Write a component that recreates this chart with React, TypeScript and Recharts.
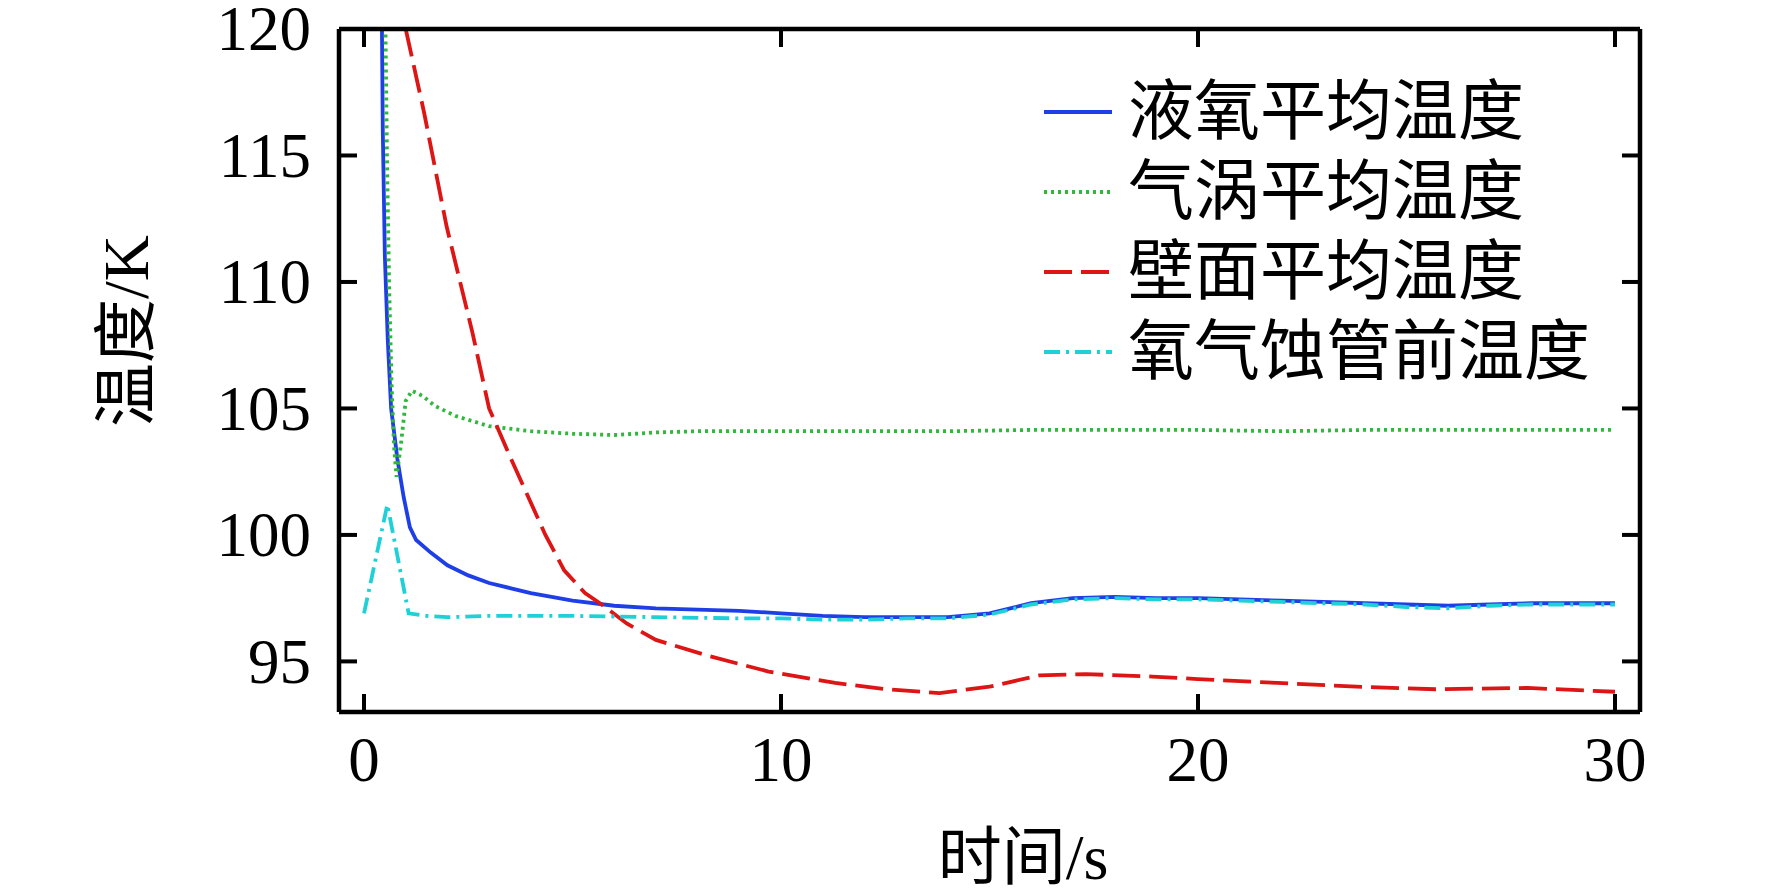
import React from 'react';
import { LineChart, Line, XAxis, YAxis } from 'recharts';

// time (s) / temperature (K)
const lqT = [0.42, 0.45, 0.5, 0.57, 0.65, 0.8, 0.95, 1.1, 1.25, 1.6, 2, 2.5, 3, 3.5, 4, 5, 6, 7, 8, 9, 10, 11, 12, 13, 14, 15, 16, 17, 18, 19, 20, 21, 22, 23, 24, 25, 26, 27, 28, 29, 30];
const lqV = [122, 116, 111, 107.7, 105, 103, 101.5, 100.3, 99.8, 99.3, 98.8, 98.4, 98.1, 97.9, 97.7, 97.4, 97.2, 97.1, 97.05, 97.0, 96.9, 96.8, 96.75, 96.75, 96.75, 96.9, 97.3, 97.5, 97.55, 97.5, 97.5, 97.45, 97.4, 97.35, 97.3, 97.25, 97.2, 97.25, 97.3, 97.3, 97.3];

const gasT = [0.5, 0.55, 0.6, 0.66, 0.72, 0.78, 0.88, 1.0, 1.15, 1.4, 1.7, 2.2, 3, 4, 5, 6, 7, 8, 10, 12, 14, 16, 18, 20, 22, 24, 26, 28, 30];
const gasV = [122, 115, 110, 106, 103.5, 102.3, 103.5, 105.3, 105.7, 105.5, 105.1, 104.7, 104.3, 104.1, 104.0, 103.95, 104.05, 104.1, 104.1, 104.1, 104.1, 104.15, 104.15, 104.15, 104.1, 104.15, 104.15, 104.15, 104.15];

const wallT = [1.0, 1.44, 1.98, 2.6, 3.0, 3.5, 4.35, 4.8, 5.3, 5.7, 6.3, 7, 8.3, 9.7, 11.3, 12.5, 13.8, 15, 16.2, 17.3, 18.9, 20, 21.9, 23.8, 25.7, 27.9, 30];
const wallV = [120, 116.7, 112.2, 108, 105, 103.1, 100, 98.6, 97.7, 97.25, 96.5, 95.85, 95.2, 94.6, 94.15, 93.9, 93.75, 94.0, 94.45, 94.5, 94.4, 94.3, 94.15, 94.0, 93.9, 93.95, 93.8];

const inletT = [0, 0.56, 1.07, 1.5, 2, 3, 5, 7, 9, 10, 11, 12, 13, 14, 15, 16, 17, 18, 19, 20, 21, 22, 23, 24, 25, 26, 27, 28, 29, 30];
const inletV = [96.9, 101.2, 96.9, 96.8, 96.75, 96.8, 96.8, 96.75, 96.7, 96.7, 96.65, 96.65, 96.7, 96.7, 96.85, 97.25, 97.45, 97.5, 97.45, 97.45, 97.4, 97.35, 97.3, 97.25, 97.15, 97.1, 97.2, 97.25, 97.25, 97.25];

const xTicks = [0, 10, 20, 30];
const yTicks = [95, 100, 105, 110, 115, 120];

const zip = (t: number[], v: number[]) => t.map((x, i) => ({ x, y: v[i] }));

const SERIES = [
  { name: '液氧平均温度', data: zip(lqT, lqV), color: '#1f3fe6', dash: undefined },
  { name: '气涡平均温度', data: zip(gasT, gasV), color: '#2fb83a', dash: '3 4' },
  { name: '壁面平均温度', data: zip(wallT, wallV), color: '#dd1515', dash: '28 9' },
  { name: '氧气蚀管前温度', data: zip(inletT, inletV), color: '#1fd0d6', dash: '16 6 3 6' },
];

const FONT = "'Liberation Serif', 'Times New Roman', 'Noto Sans CJK SC', serif";
const TICK_LEN = 18;
const X_GAP = 24;
const Y_GAP = 28;
const axisStroke = { stroke: '#000', strokeWidth: 4.5 };

// tick marks point into the plot, labels stay outside
const BottomTick = (p: any) => (
  <g>
    <line x1={p.x} y1={p.y - X_GAP} x2={p.x} y2={p.y - X_GAP - TICK_LEN} stroke="#000" strokeWidth={4} />
    <text x={p.x} y={p.y} dy="0.71em" textAnchor="middle" fontSize={63} fontFamily={FONT} fill="#000">
      {p.payload.value}
    </text>
  </g>
);

const LeftTick = (p: any) => (
  <g>
    <line x1={p.x + Y_GAP} y1={p.y} x2={p.x + Y_GAP + TICK_LEN} y2={p.y} stroke="#000" strokeWidth={4} />
    <text x={p.x} y={p.y} dy="0.34em" textAnchor="end" fontSize={63} fontFamily={FONT} fill="#000">
      {p.payload.value}
    </text>
  </g>
);

const TopTick = (p: any) => (
  <line x1={p.x} y1={p.y} x2={p.x} y2={p.y + TICK_LEN} stroke="#000" strokeWidth={4} />
);

const RightTick = (p: any) => (
  <line x1={p.x} y1={p.y} x2={p.x - TICK_LEN} y2={p.y} stroke="#000" strokeWidth={4} />
);

function LegendBox() {
  return (
    <div style={{ position: 'absolute', left: 1044, top: 72, fontFamily: FONT, fontSize: 66, color: '#000', lineHeight: 1 }}>
      {SERIES.map((s) => (
        <div key={s.name} style={{ display: 'flex', alignItems: 'center', height: 80 }}>
          <svg width={84} height={12}>
            <line x1={0} y1={6} x2={68} y2={6} stroke={s.color} strokeWidth={4} strokeDasharray={s.dash} />
          </svg>
          <span>{s.name}</span>
        </div>
      ))}
    </div>
  );
}

export default function App() {
  return (
    <div style={{ position: 'absolute', left: 0, top: 0, width: 1772, height: 895, background: '#fff' }}>
      <LineChart width={1772} height={895} margin={{ top: 28, right: 131, bottom: 0, left: 0 }}>
        <XAxis
          xAxisId="bottom"
          dataKey="x"
          type="number"
          domain={[-0.6, 30.6]}
          ticks={xTicks}
          interval={0}
          allowDataOverflow
          height={183}
          axisLine={axisStroke}
          tickLine={false}
          tickSize={0}
          tickMargin={X_GAP}
          tick={BottomTick}
          label={{
            content: () => (
              <text x={1023} y={879} textAnchor="middle" fontSize={64} fontFamily={FONT} fill="#000">
                时间/s
              </text>
            ),
          }}
        />
        <XAxis
          xAxisId="top"
          orientation="top"
          dataKey="x"
          type="number"
          domain={[-0.6, 30.6]}
          ticks={xTicks}
          interval={0}
          allowDataOverflow
          height={1}
          axisLine={axisStroke}
          tickLine={false}
          tickSize={0}
          tickMargin={0}
          tick={TopTick}
        />
        <YAxis
          yAxisId="left"
          type="number"
          domain={[93, 120]}
          ticks={yTicks}
          interval={0}
          allowDataOverflow
          width={339}
          axisLine={axisStroke}
          tickLine={false}
          tickSize={0}
          tickMargin={Y_GAP}
          tick={LeftTick}
          label={{
            content: () => (
              <text
                x={126}
                y={331}
                transform="rotate(-90 126 331)"
                textAnchor="middle"
                dominantBaseline="central"
                fontSize={64}
                fontFamily={FONT}
                fill="#000"
              >
                温度/K
              </text>
            ),
          }}
        />
        <YAxis
          yAxisId="right"
          orientation="right"
          type="number"
          domain={[93, 120]}
          ticks={yTicks}
          interval={0}
          allowDataOverflow
          width={1}
          axisLine={axisStroke}
          tickLine={false}
          tickSize={0}
          tickMargin={0}
          tick={RightTick}
        />
        {SERIES.map((s) => (
          <Line
            key={s.name}
            xAxisId="bottom"
            yAxisId="left"
            data={s.data}
            dataKey="y"
            name={s.name}
            type="linear"
            stroke={s.color}
            strokeWidth={3.8}
            strokeDasharray={s.dash}
            dot={false}
            activeDot={false}
            isAnimationActive={false}
          />
        ))}
      </LineChart>
      <LegendBox />
    </div>
  );
}
